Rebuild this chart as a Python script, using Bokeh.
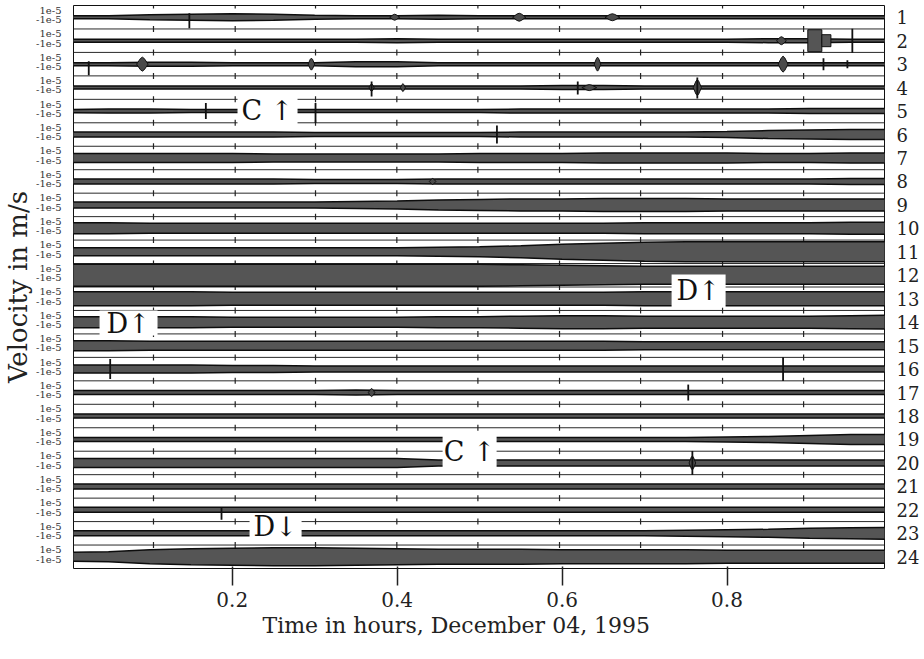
import numpy as np
from bokeh.plotting import figure
from bokeh.models import FixedTicker, LinearAxis, Range1d, Title
from bokeh.embed import file_html
from bokeh.resources import INLINE
from bokeh.core.properties import value

# ---------------- data ----------------
# sample times (hours) for the envelope of each trace
hours = [0.0, 0.05, 0.10, 0.15, 0.20, 0.25, 0.30, 0.35, 0.40, 0.45, 0.50,
         0.55, 0.60, 0.65, 0.70, 0.75, 0.80, 0.85, 0.90, 0.95, 1.0]
trace_numbers = list(range(1, 25))
# half-amplitude of each trace envelope (amplitude units; 23.5 units = trace spacing)
env_1 = [1.5, 1.5, 2.5, 3, 3.5, 3, 2, 1.5, 1.5, 2, 1.5, 1.5, 1.5, 1.5, 1.5, 1.5, 1.5, 1.5, 1.5, 1.5, 1.5]
env_2 = [1.5, 1.5, 1.5, 1.5, 1.5, 1.5, 1.5, 1.5, 2, 1.5, 1.5, 1.5, 1.5, 1.5, 1.5, 1.5, 1.5, 2, 2, 1.5, 1.5]
env_3 = [1.5, 1.5, 2, 2, 1.5, 1.5, 1.5, 2.5, 2.5, 1.5, 1.5, 1.5, 1.5, 1.5, 1.5, 1.5, 1.5, 1.5, 1.5, 1.5, 1.5]
env_4 = [1.5, 1.5, 1.5, 1.5, 1.5, 1.5, 1.5, 1.5, 1.5, 1.5, 1.5, 1.5, 2, 2, 1.5, 1.5, 1.5, 1.5, 1.5, 1.5, 1.5]
env_5 = [1.5, 2, 2, 1.5, 1.5, 1.5, 1.5, 1.5, 1.5, 1.5, 1.5, 2, 2, 2, 2, 2, 2, 2, 2.5, 2.5, 2.5]
env_6 = [2.5, 2.5, 2.5, 2.5, 2.5, 2.5, 2, 2, 2, 2, 2, 2.5, 2.5, 2.5, 2.5, 2.5, 3, 4, 4.5, 5, 5]
env_7 = [4.5, 4.5, 4.5, 4.5, 4.5, 4, 4, 4, 4, 4, 4.5, 4.5, 4.5, 5, 5, 5, 5, 4.5, 4.5, 5, 5]
env_8 = [2.5, 2.5, 2.5, 2.5, 2.5, 2.5, 2, 2, 2, 2.5, 2.5, 2.5, 2.5, 2.5, 2.5, 2.5, 2.5, 2.5, 2.5, 3, 3]
env_9 = [3, 3, 3, 3, 3, 3, 3, 3.5, 4, 5, 5.5, 6, 6, 6.5, 6.5, 6.5, 6, 6, 6, 6, 6]
env_10 = [5.5, 5.5, 5, 5, 5, 5, 5, 5, 5, 5, 5, 5, 5, 5, 5.5, 5.5, 5.5, 5.5, 5.5, 6, 6]
env_11 = [4, 4, 4, 4, 4, 4, 4, 4, 4, 4.5, 5, 6, 7.5, 8.5, 9.5, 10, 10, 10, 10, 10, 10]
env_12 = [11, 11, 11, 11, 11, 11, 11, 11, 11, 11, 11, 10.5, 10, 9.5, 9, 9, 9, 9, 9, 9, 9]
env_13 = [7, 7, 7, 7, 6.5, 6.5, 6.5, 6.5, 6.5, 6.5, 6.5, 6.5, 6.5, 6.5, 7, 7, 7, 7, 7, 7, 7]
env_14 = [5.5, 5.5, 5.5, 5.5, 5, 5, 5, 5, 5, 5.5, 5.5, 6, 6.5, 6.5, 6, 6, 6, 6, 6, 6.5, 7]
env_15 = [5, 5, 4.5, 4.5, 4.5, 4.5, 4.5, 4.5, 4.5, 4.5, 4.5, 4.5, 4.5, 4.5, 4, 4, 4, 4, 4, 4, 4]
env_16 = [4, 4, 4, 4, 3.5, 3.5, 3, 3, 3, 3, 3, 3, 3, 3, 3, 3, 3, 3, 3, 3, 3]
env_17 = [2, 2, 2, 2, 2, 2, 2, 2.5, 2, 2, 2, 2, 2, 2, 2, 2, 2, 2, 2, 2, 2]
env_18 = [2, 2, 2, 2, 2, 2, 2, 2, 2, 2, 2, 2, 2, 2, 2, 2, 2, 2, 2, 2, 2]
env_19 = [2, 2, 2, 2, 2, 2, 2, 2, 2, 2, 2, 2, 2, 2, 2, 2, 2.5, 3, 4, 5, 5]
env_20 = [4.5, 4.5, 4.5, 4.5, 4.5, 4.5, 4.5, 4.5, 4.5, 3, 3, 3, 3, 3, 3, 3, 3, 3, 3, 3, 3]
env_21 = [2.5, 2.5, 2.5, 2.5, 2.5, 2.5, 2.5, 2.5, 2.5, 2.5, 2.5, 2.5, 2.5, 2.5, 2.5, 2.5, 2.5, 2.5, 2.5, 2.5, 2.5]
env_22 = [2.5, 2.5, 2.5, 2.5, 2.5, 2.5, 2.5, 2.5, 2.5, 2.5, 2.5, 2.5, 2.5, 2.5, 2.5, 2.5, 2.5, 2.5, 2.5, 2.5, 2.5]
env_23 = [2.5, 2.5, 2.5, 2.5, 2.5, 2.5, 2.5, 2.5, 2.5, 2.5, 2.5, 2.5, 2.5, 2.5, 2.5, 3, 3.5, 4, 5, 5.5, 6]
env_24 = [4.5, 5, 7, 8, 8.5, 9, 9, 8.5, 8, 7.5, 7.5, 7.5, 7, 7, 7, 7, 6.5, 6.5, 6.5, 6.5, 6.5]
envelopes = [env_1, env_2, env_3, env_4, env_5, env_6, env_7, env_8, env_9, env_10, env_11, env_12,
             env_13, env_14, env_15, env_16, env_17, env_18, env_19, env_20, env_21, env_22, env_23, env_24]
AMP_PER_SPACING = 23.5

# transient spikes: trace, time (h), upward and downward excursion (amplitude units)
spike_trace = [1, 3, 3, 3, 4, 4, 4, 5, 5, 6, 16, 16, 17, 20, 22, 2]
spike_time = [0.148, 0.026, 0.917, 0.946, 0.369, 0.619, 0.764, 0.168, 0.301, 0.521, 0.052, 0.868, 0.753, 0.758, 0.187, 0.952]
spike_up = [4, 3, 6, 4, 6, 6, 10, 8, 8, 9, 10, 12, 8, 12, 2, 12]
spike_down = [11, 11, 6, 4, 9, 7, 11, 8, 12, 9, 10, 12, 8, 12, 10, 12]

# short wave packets: trace, centre time (h), half duration (h), half amplitude
burst_trace = [1, 1, 1, 2, 3, 3, 3, 3, 4, 4, 4, 4, 8, 17, 20]
burst_time = [0.397, 0.548, 0.661, 0.866, 0.091, 0.296, 0.643, 0.868, 0.369, 0.407, 0.633, 0.764, 0.443, 0.369, 0.758]
burst_half = [0.006, 0.008, 0.009, 0.006, 0.007, 0.004, 0.004, 0.006, 0.003, 0.003, 0.009, 0.005, 0.004, 0.004, 0.004]
burst_amp = [3, 4, 3.5, 4, 7, 6, 7, 8, 4, 4, 3, 8, 3, 4, 7]

# large boxcar-shaped signal on trace 2
block_trace = [2, 2]
block_start = [0.898, 0.915]
block_end = [0.915, 0.926]
block_amp = [11, 6]

# minor time marks on every separator line
minor_marks = [0.1045, 0.2036, 0.3010, 0.3996, 0.4979, 0.5969, 0.6952, 0.7946, 0.8929]
x_ticks = [0.2, 0.4, 0.6, 0.8]

# annotations: text, left, right (h), bottom, top (trace spacing units from bottom)
note_text = ["C \u2191", "D\u2191", "D\u2191", "C \u2191", "D\u2193"]
note_left = [0.2064, 0.7328, 0.0391, 0.4551, 0.2210]
note_right = [0.2792, 0.7983, 0.1094, 0.5206, 0.2841]
note_bottom = [18.93, 11.13, 9.93, 4.31, 1.32]
note_top = [20.16, 12.53, 11.00, 5.67, 2.30]

X_START, X_END = 0.0075, 0.991
FONT = "DejaVu Serif"

# ---------------- figure ----------------
n = len(trace_numbers)
centers = [n - k + 0.5 for k in trace_numbers]

p = figure(frame_width=811, frame_height=563, output_backend="svg", toolbar_location=None,
           x_range=Range1d(X_START, X_END), y_range=Range1d(0, n),
           min_border_left=66, min_border_right=31, min_border_top=5, min_border_bottom=70,
           y_axis_location=None)
p.background_fill_color = "white"
p.border_fill_color = "white"
p.outline_line_color = "#111111"
p.outline_line_width = 1
p.xgrid.visible = False
p.ygrid.visible = False

# separator lines with minor marks
seps = list(range(1, n))
p.segment(x0=[X_START] * len(seps), x1=[X_END] * len(seps), y0=seps, y1=seps,
          line_color="#2a2a2a", line_width=1)
mx = [m for s in range(1, n + 1) for m in minor_marks]
my = [s for s in range(1, n + 1) for m in minor_marks]
p.scatter(mx, my, marker="dash", angle=np.pi / 2, size=6, line_color="#222222", line_width=1.2)

# traces
hrs = np.array(hours)
for c, env in zip(centers, envelopes):
    a = np.array(env) / AMP_PER_SPACING
    p.varea(x=hrs, y1=c - a, y2=c + a, fill_color="#555555")
    p.line(hrs, c + a, line_color="#0d0d0d", line_width=1.5)
    p.line(hrs, c - a, line_color="#0d0d0d", line_width=1.5)

# bursts (diamond shaped packets)
bx, by = [], []
for t, tm, hw, am in zip(burst_trace, burst_time, burst_half, burst_amp):
    c = n - t + 0.5
    h = am / AMP_PER_SPACING
    bx.append([tm - hw, tm - hw / 3, tm, tm + hw / 3, tm + hw, tm + hw / 3, tm, tm - hw / 3])
    by.append([c, c + h * 0.8, c + h, c + h * 0.8, c, c - h * 0.8, c - h, c - h * 0.8])
p.patches(bx, by, fill_color="#4a4a4a", line_color="#111111", line_width=1)

# boxcar block
p.quad(left=block_start, right=block_end,
       bottom=[n - t + 0.5 - a / AMP_PER_SPACING for t, a in zip(block_trace, block_amp)],
       top=[n - t + 0.5 + a / AMP_PER_SPACING for t, a in zip(block_trace, block_amp)],
       fill_color="#555555", line_color="#111111", line_width=1)

# spikes
sc = [n - t + 0.5 for t in spike_trace]
p.segment(x0=spike_time, x1=spike_time,
          y0=[c - d / AMP_PER_SPACING for c, d in zip(sc, spike_down)],
          y1=[c + u / AMP_PER_SPACING for c, u in zip(sc, spike_up)],
          line_color="#111111", line_width=1.8)

# annotation boxes
p.quad(left=note_left, right=note_right, bottom=note_bottom, top=note_top,
       fill_color="white", line_color=None)
p.text(x=[(l + r) / 2 for l, r in zip(note_left, note_right)],
       y=[(b + t) / 2 for b, t in zip(note_bottom, note_top)],
       text=note_text, text_font=value(FONT), text_font_size="27px",
       text_align="center", text_baseline="middle", text_color="#111111")

# x axis
xa = p.xaxis[0]
xa.ticker = FixedTicker(ticks=x_ticks)
xa.minor_tick_line_color = None
xa.axis_line_color = None
xa.major_tick_in = 2
xa.major_tick_out = 17
xa.major_tick_line_color = "#222222"
xa.major_tick_line_width = 1.5
xa.major_label_text_font = FONT
xa.major_label_text_font_size = "20px"
xa.major_label_text_color = "#222222"
xa.major_label_standoff = 6

xtitle = Title(text="Time in hours, December 04, 1995", align="left", offset=189, standoff=2,
               text_font=FONT, text_font_size="22px", text_font_style="normal",
               text_color="#222222")
p.add_layout(xtitle, "below")

# left axis with the +/-1e-5 scale labels
pos_ticks = [round(c + 0.3, 3) for c in centers]
neg_ticks = [round(c - 0.1, 3) for c in centers]
overrides = {}
for t in pos_ticks:
    overrides[t] = "1e-5"
for t in neg_ticks:
    overrides[t] = "-1e-5"
la = LinearAxis(ticker=FixedTicker(ticks=pos_ticks + neg_ticks), major_label_overrides=overrides)
la.axis_line_color = None
la.major_tick_line_color = None
la.minor_tick_line_color = None
la.major_label_text_font = FONT
la.major_label_text_font_size = "10px"
la.major_label_text_color = "#333333"
la.major_label_standoff = 6
la.axis_label = "Velocity in m/s"
la.axis_label_text_font = FONT
la.axis_label_text_font_size = "26px"
la.axis_label_text_font_style = "normal"
la.axis_label_text_color = "#222222"
la.axis_label_standoff = 0
p.add_layout(la, "left")

# right axis with trace numbers
ra = LinearAxis(ticker=FixedTicker(ticks=centers),
                major_label_overrides={c: str(k) for c, k in zip(centers, trace_numbers)})
ra.axis_line_color = None
ra.major_tick_line_color = None
ra.minor_tick_line_color = None
ra.major_label_text_font = FONT
ra.major_label_text_font_size = "18px"
ra.major_label_text_color = "#222222"
ra.major_label_standoff = 6
p.add_layout(ra, "right")

open("out.html", "w").write(file_html(p, INLINE))
